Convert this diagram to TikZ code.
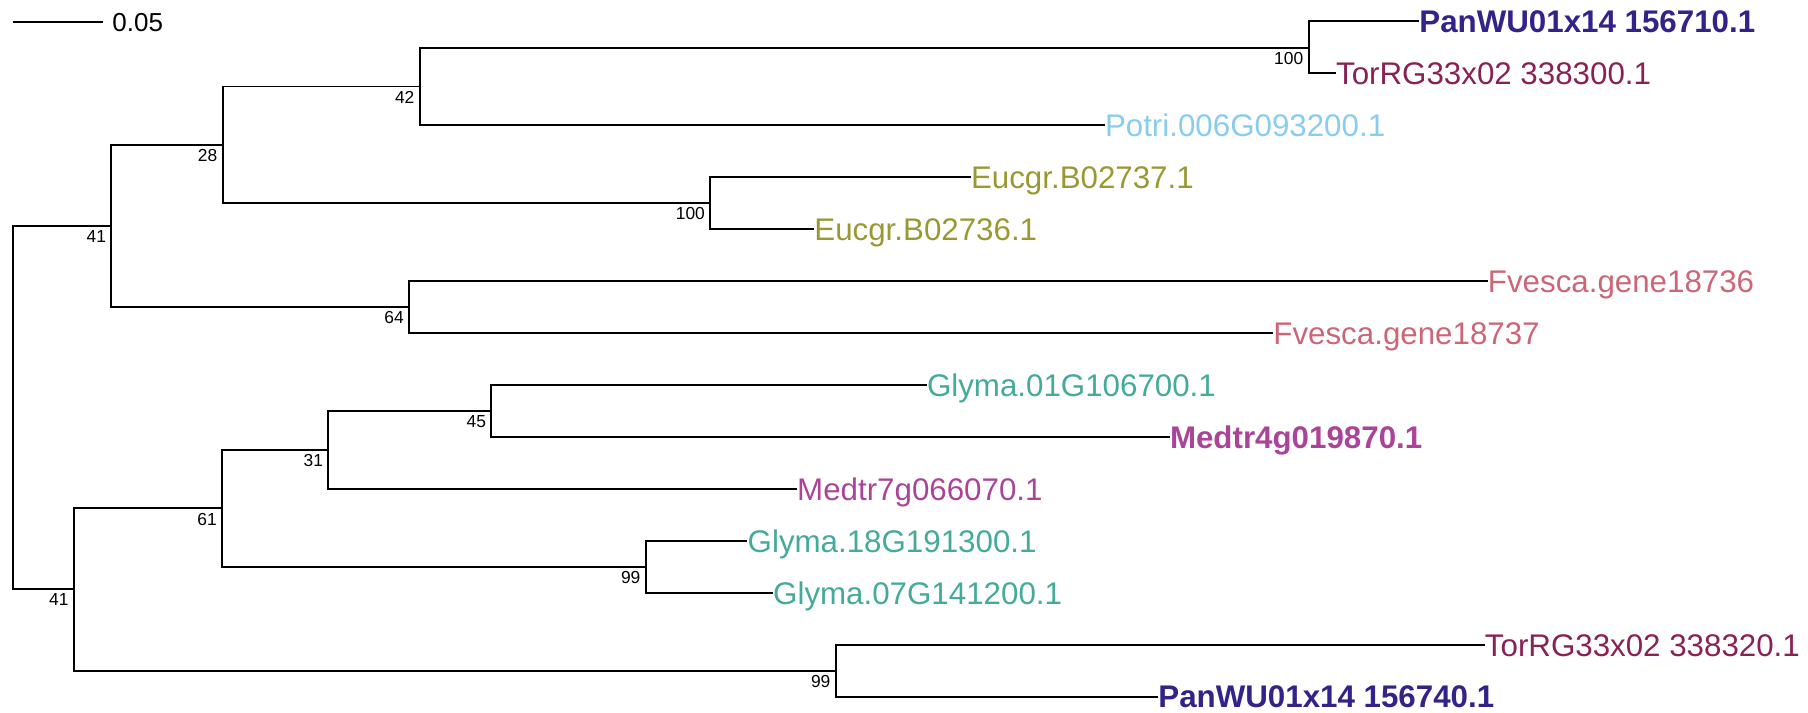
\documentclass[tikz,border=0pt]{standalone}
\usepackage{fontspec}
\setmainfont{Liberation Sans}
\definecolor{treeindigo}{HTML}{332288}
\definecolor{treewine}{HTML}{882255}
\definecolor{treecyan}{HTML}{88CCEE}
\definecolor{treeolive}{HTML}{999933}
\definecolor{treerose}{HTML}{CC6677}
\definecolor{treeteal}{HTML}{44AA99}
\definecolor{treepurple}{HTML}{AA4499}
\tikzset{
  branch/.style={black,line width=0.95pt},
  leaf/.style={anchor=west,inner sep=0pt,text height=11.2pt,text depth=0pt,font=\fontsize{15.65}{18}\selectfont},
  leafbold/.style={leaf,font=\fontsize{15.65}{18}\selectfont\bfseries},
  support/.style={anchor=north east,inner sep=0pt,xshift=-2.5pt,yshift=-2.1pt,font=\fontsize{8.7}{10}\selectfont},
  scaletext/.style={anchor=west,inner sep=0pt,font=\fontsize{13}{15}\selectfont}
}

\begin{document}
\begin{tikzpicture}[x=0.5pt,y=-0.5pt]
\useasboundingbox (0,0) rectangle (1808,712);
\coordinate (sbl) at (12.6,21.7);
\coordinate (sbr) at (103.3,21.7);
\draw[branch] (sbl) -- (sbr);
\node[scaletext] (sbtext) at (112,22.5) {0.05};
\coordinate (root) at (13,407.5);
\coordinate (n41a) at (111.4,225.7);
\coordinate (n28) at (222.7,144.7);
\coordinate (n42) at (419.8,86.5);
\coordinate (n100a) at (1308.6,47.7);
\coordinate (n100b) at (710.3,203);
\coordinate (n64) at (409.1,307);
\coordinate (n41b) at (74,589.3);
\coordinate (n61) at (222.2,508.3);
\coordinate (n31) at (328.4,449.7);
\coordinate (n45) at (491.4,410.7);
\coordinate (n99a) at (645.8,566.7);
\coordinate (n99b) at (835.8,670.7);
\node[leafbold,text=treeindigo] (pan710) at (1419,21) {PanWU01x14 156710.1};
\node[leaf,text=treewine] (tor300) at (1335.7,73) {TorRG33x02 338300.1};
\node[leaf,text=treecyan] (potri) at (1104.6,125) {Potri.006G093200.1};
\node[leaf,text=treeolive] (euc737) at (970.6,176.9) {Eucgr.B02737.1};
\node[leaf,text=treeolive] (euc736) at (814,228.9) {Eucgr.B02736.1};
\node[leaf,text=treerose] (fve736) at (1487.5,280.9) {Fvesca.gene18736};
\node[leaf,text=treerose] (fve737) at (1273,332.9) {Fvesca.gene18737};
\node[leaf,text=treeteal] (gly01) at (926.6,384.9) {Glyma.01G106700.1};
\node[leafbold,text=treepurple] (med4) at (1169.6,436.8) {Medtr4g019870.1};
\node[leaf,text=treepurple] (med7) at (796.8,488.8) {Medtr7g066070.1};
\node[leaf,text=treeteal] (gly18) at (747.3,540.8) {Glyma.18G191300.1};
\node[leaf,text=treeteal] (gly07) at (772.8,592.8) {Glyma.07G141200.1};
\node[leaf,text=treewine] (tor320) at (1484.5,644.8) {TorRG33x02 338320.1};
\node[leafbold,text=treeindigo] (pan740) at (1158,696.7) {PanWU01x14 156740.1};
\draw[branch] (root) |- (n41a);
\draw[branch] (root) |- (n41b);
\draw[branch] (n41a) |- (n28);
\draw[branch] (n41a) |- (n64);
\draw[branch] (n28) |- (n42);
\draw[branch] (n28) |- (n100b);
\draw[branch] (n42) |- (n100a);
\draw[branch] (n42) |- (potri.west);
\draw[branch] (n100a) |- (pan710.west);
\draw[branch] (n100a) |- (tor300.west);
\draw[branch] (n100b) |- (euc737.west);
\draw[branch] (n100b) |- (euc736.west);
\draw[branch] (n64) |- (fve736.west);
\draw[branch] (n64) |- (fve737.west);
\draw[branch] (n41b) |- (n61);
\draw[branch] (n41b) |- (n99b);
\draw[branch] (n61) |- (n31);
\draw[branch] (n61) |- (n99a);
\draw[branch] (n31) |- (n45);
\draw[branch] (n31) |- (med7.west);
\draw[branch] (n45) |- (gly01.west);
\draw[branch] (n45) |- (med4.west);
\draw[branch] (n99a) |- (gly18.west);
\draw[branch] (n99a) |- (gly07.west);
\draw[branch] (n99b) |- (tor320.west);
\draw[branch] (n99b) |- (pan740.west);
\node[support] (s41a) at (n41a) {41};
\node[support] (s28) at (n28) {28};
\node[support] (s42) at (n42) {42};
\node[support] (s100a) at (n100a) {100};
\node[support] (s100b) at (n100b) {100};
\node[support] (s64) at (n64) {64};
\node[support] (s41b) at (n41b) {41};
\node[support] (s61) at (n61) {61};
\node[support] (s31) at (n31) {31};
\node[support] (s45) at (n45) {45};
\node[support] (s99a) at (n99a) {99};
\node[support] (s99b) at (n99b) {99};
\end{tikzpicture}
\end{document}
